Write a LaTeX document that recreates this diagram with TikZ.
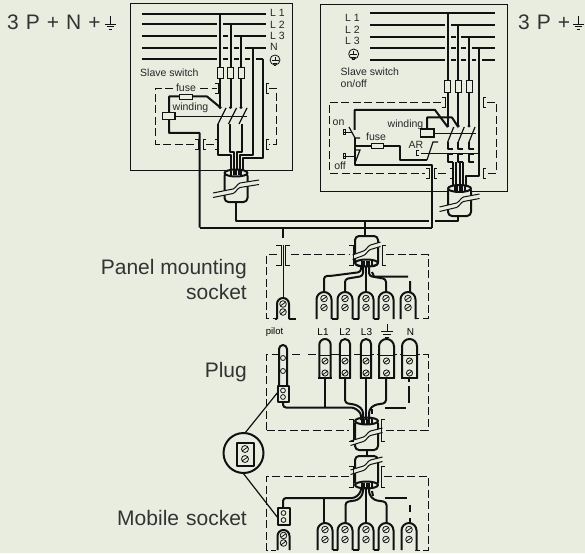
\documentclass[tikz,border=0pt]{standalone}
\usepackage{xcolor}
\usepackage{fontspec}
\setmainfont{Liberation Sans}
\definecolor{panel-bg}{HTML}{E9EDE0}
\definecolor{wire-black}{HTML}{111111}
\tikzset{
    wire/.style={line width=2pt, wire-black, line join=round},
    thinwire/.style={line width=0.8pt, wire-black},
    dashbox/.style={line width=0.9pt, wire-black, dash pattern=on 8pt off 3.5pt},
    bigtext/.style={font=\fontsize{21}{25}\selectfont, text=black!80},
    smalltext/.style={font=\fontsize{10.5}{12}\selectfont, text=black!85, inner sep=0pt}
}
% terminal with an arched top and two screws: x, top, bottom, half width, screw 1, screw 2
\newcommand{\clampterm}[6]{
    \draw[wire, fill=panel-bg, rounded corners=#4 pt] (#1-#4,#3) -- (#1-#4,#2) -- (#1+#4,#2) -- (#1+#4,#3);
    \foreach \s in {#5,#6} {
        \draw[thinwire] (#1,\s) circle[radius=3.3];
        \draw[thinwire] (#1-2.3,\s+1.7) -- (#1+2.3,\s-1.7);
    }
}
% plug pin: x, half width, top
\newcommand{\plugpin}[3]{
    \draw[wire, fill=panel-bg, rounded corners=#2 pt] (#1-#2,378) -- (#1-#2,#3) -- (#1+#2,#3) -- (#1+#2,378);
    \draw[wire] (#1-#2-1,378) -- (#1+#2+1,378);
    \draw[thinwire] (#1-#2,355) -- (#1+#2,355);
    \foreach \s in {361,373} {
        \draw[thinwire] (#1,\s) circle[radius=3.1];
        \draw[thinwire] (#1-2.2,\s+1.6) -- (#1+2.2,\s-1.6);
    }
}
% cable sleeve: x, top, bottom, break y, reach of the break, y of the mouth
\newcommand{\sleeve}[6]{
    \draw[wire, rounded corners=4pt, fill=panel-bg] (#1-11.5,#2) -- (#1-11.5,#3) -- (#1+11.5,#3) -- (#1+11.5,#2) -- cycle;
    \fill[panel-bg] (#1-#5,#4+6) -- (#1-3,#4+2) .. controls (#1,#4+1) and (#1+1,#4-3) .. (#1+4,#4-4) -- (#1+#5,#4-7) -- (#1+#5,#4-2.5) -- (#1+4,#4+0.5) .. controls (#1+1,#4+1.5) and (#1,#4+5.5) .. (#1-3,#4+6.5) -- (#1-#5,#4+10.5) -- cycle;
    \draw[line width=1pt, wire-black] (#1-#5,#4+6) -- (#1-3,#4+2) .. controls (#1,#4+1) and (#1+1,#4-3) .. (#1+4,#4-4) -- (#1+#5,#4-7);
    \draw[line width=1pt, wire-black] (#1-#5,#4+10.5) -- (#1-3,#4+6.5) .. controls (#1,#4+5.5) and (#1+1,#4+1.5) .. (#1+4,#4+0.5) -- (#1+#5,#4-2.5);
    \draw[wire, fill=panel-bg] (#1,#6) ellipse[x radius=11.5, y radius=3.5];
    \foreach \d in {-5,-2.5,0,2.5,5} {
        \draw[wire] (#1+\d,#6-2.5) -- (#1+\d,#6+2.5);
    }
}
% bracket of a connector: x, y1, y2, direction
\newcommand{\ctag}[4]{
    \draw[thinwire] (#1+#4,#2) -- (#1,#2) -- (#1,#3) -- (#1+#4,#3);
}
% earth sign: x, y of the first bar, half width, stem
\newcommand{\earthmark}[4]{
    \draw[thinwire] (#1,#2-#4) -- (#1,#2);
    \draw[thinwire] (#1-#3,#2) -- (#1+#3,#2);
    \draw[thinwire] (#1-#3*0.68,#2+2.6) -- (#1+#3*0.68,#2+2.6);
    \draw[thinwire] (#1-#3*0.36,#2+5.2) -- (#1+#3*0.36,#2+5.2);
}
\begin{document}
\begin{tikzpicture}[x=1pt,y=-1pt]
    \fill[panel-bg] (0,0) rectangle (585,553);
    \useasboundingbox (0,0) rectangle (585,553);

    % Titles
    \node[bigtext, anchor=west, inner sep=0pt] (titleleft) at (7,22) {\spaceskip=7pt 3 P + N +};
    \earthmark{110.5}{24}{5.5}{8}
    \node[bigtext, anchor=west, inner sep=0pt] (titleright) at (518,22) {\spaceskip=7pt 3 P +};
    \earthmark{578.5}{24}{5.5}{8}
    \node[bigtext, anchor=east, inner sep=0pt, align=right] (panellabel) at (247,279) {Panel mounting\\socket};
    \node[bigtext, anchor=east, inner sep=0pt] (pluglabel) at (247,372) {Plug};
    \node[bigtext, anchor=east, inner sep=0pt] (mobilelabel) at (247,518) {\spaceskip=7pt Mobile socket};

    % Left switch box
    \draw[line width=0.8pt, wire-black] (130.5,3) rectangle (292,170.5);
    \draw[wire] (142,14) -- (266,14);
    \foreach \y/\xa/\label in {24.5/270/L 2, 36/270/L 3} {
        \node[smalltext, anchor=west] (left\y) at (\xa,\y) {\label};
    }
    \node[smalltext, anchor=west] (leftlone) at (270,13) {L 1};
    \node[smalltext, anchor=west] (leftn) at (270,47) {N};
    \draw[thinwire] (275,60) circle[radius=5];
    \earthmark{275}{60.5}{3.5}{3.5}
    \draw[wire] (142,24.5) -- (217,24.5) (223,24.5) -- (266,24.5);
    \draw[wire] (142,36.5) -- (217,36.5) (223,36.5) -- (228,36.5) (234,36.5) -- (266,36.5);
    \draw[wire] (142,48) -- (217,48) (223,48) -- (228,48) (234,48) -- (239,48) (245,48) -- (266,48);
    \draw[wire] (142,59.5) -- (217,59.5) (223,59.5) -- (228,59.5) (234,59.5) -- (239,59.5) (245,59.5) -- (250,59.5) (256,59.5) -- (262.5,59.5);
    \foreach \x/\ytop in {220/14, 230.5/24.5, 241/36.5} {
        \draw[wire] (\x,\ytop) -- (\x,107);
        \draw[thinwire, fill=panel-bg] (\x-3,67) rectangle (\x+3,78);
        \draw[line width=1.2pt, wire-black] (\x+6,108) -- (\x-2,124);
        \fill[wire-black] (\x,107.5) circle[radius=1.6];
    }
    \draw[wire] (218,124) -- (218,155) -- (231,155) -- (231,172);
    \draw[wire] (230,124) -- (230,152) -- (234,152) -- (234,172);
    \draw[wire] (242,124) -- (242,152) -- (237,152) -- (237,172);
    \draw[wire] (253,48) -- (253,155) -- (240,155) -- (240,172);
    \draw[wire] (262.5,59.5) -- (262.5,158.5) -- (243,158.5) -- (243,172);
    \node[smalltext, anchor=west] (leftslave) at (140,73) {Slave switch};
    % Left dashed cover
    \draw[dashbox] (173,88.5) -- (155.5,88.5) -- (155.5,144) -- (196,144);
    \draw[dashbox] (200,88.5) -- (217,88.5);
    \draw[dashbox] (206,144) -- (216,144);
    \draw[dashbox] (269,88.5) -- (276,88.5) -- (276,144) -- (269,144);
    \foreach \x/\ya/\yb/\d in {218/83.5/93.5/-3, 266/83.5/93.5/3, 198/139/149/-3, 203/139/149/3, 218/139/149/-3, 266/139/149/3} {
        \ctag{\x}{\ya}{\yb}{\d}
    }
    \node[smalltext] (leftfuse) at (186,87.5) {fuse};
    \node[smalltext] (leftwinding) at (190.5,107.5) {winding};
    \draw[wire] (221,108) -- (207,96.5) -- (169,96.5) -- (169,133) -- (199.5,133) -- (199.5,227.5);
    \draw[thinwire, fill=panel-bg] (179,94) rectangle (192,99.5);
    \draw[thinwire] (175,116) -- (247,116);
    \draw[line width=1.1pt, wire-black, fill=panel-bg] (162.5,112.5) rectangle (175,119.5);
    \sleeve{236}{172}{202}{187}{23}{173}

    % Right switch box
    \draw[line width=0.8pt, wire-black] (320.5,4) rectangle (507,191);
    \foreach \y/\label in {18/L 1, 30/L 2, 41/L 3} {
        \node[smalltext, anchor=west] (right\y) at (345,\y) {\label};
    }
    \draw[thinwire] (353.7,54) circle[radius=5];
    \earthmark{353.7}{54.5}{3.5}{3.5}
    \node[smalltext, anchor=west, align=left] (rightslave) at (340.5,77.5) {Slave switch\\on/off};
    \draw[wire] (370,13.5) -- (495,13.5);
    \draw[wire] (370,24.7) -- (445,24.7) (451,24.7) -- (495,24.7);
    \draw[wire] (370,36.7) -- (445,36.7) (451,36.7) -- (456,36.7) (461,36.7) -- (495,36.7);
    \draw[wire] (370,48.3) -- (445,48.3) (451,48.3) -- (456,48.3) (461,48.3) -- (466,48.3) (472,48.3) -- (495,48.3);
    \draw[wire] (370,60) -- (445,60) (451,60) -- (456,60) (461,60) -- (466,60) (472,60) -- (476,60) (482,60) -- (495,60);
    \foreach \x/\ytop in {447.7/13.5, 458.2/24.7, 469/36.7} {
        \draw[wire] (\x,\ytop) -- (\x,125);
        \draw[thinwire, fill=panel-bg] (\x-3,80) rectangle (\x+3,92);
        \draw[line width=1.2pt, wire-black] (\x+6,127) -- (\x,142);
        \fill[wire-black] (\x,126) circle[radius=1.6];
        \draw[wire] (\x,142) -- (\x,149.5) -- (\x+5,149.5);
        \draw[wire] (\x+5,154.5) -- (\x,154.5) -- (\x,162) -- (\x+5,162);
    }
    \draw[thinwire] (434,133) -- (476,133);
    \draw[thinwire] (421,153) -- (479,153);
    \draw[thinwire] (419,150.5) -- (416,150.5) -- (416,155.5) -- (419,155.5);
    \draw[wire] (452.7,162) -- (452.7,186) (456,162) -- (456,186) (460,162) -- (460,186) (463,162) -- (463,186);
    \draw[wire] (479,48.3) -- (479,176.5) -- (466,176.5) -- (466,186);
    % Right dashed cover
    \draw[dashbox] (441,102) -- (329,102) -- (329,173) -- (425,173);
    \draw[dashbox] (438,173) -- (449,173);
    \draw[dashbox] (487,102) -- (496,102) -- (496,173) -- (487,173);
    \foreach \x/\ya/\yb/\d in {445/97/107/-3, 483/97/107/3, 429/168/178/-3, 434/168/178/3, 453/168/178/-3, 483/168/178/3} {
        \ctag{\x}{\ya}{\yb}{\d}
    }
    \node[smalltext] (righton) at (338.5,122.5) {on};
    \node[smalltext] (rightfuse) at (376,136.5) {fuse};
    \node[smalltext] (rightwinding) at (405.5,125) {winding};
    \node[smalltext] (rightar) at (416,145) {AR};
    \node[smalltext] (rightoff) at (340,166) {off};
    % Right control circuit
    \draw[wire] (447.7,127) -- (435,110) -- (354.5,110) -- (354.5,130);
    \draw[wire] (427,129) -- (427,117.5) -- (452,117.5) -- (458.2,127);
    \draw[line width=1.2pt, wire-black] (349,127) -- (355,138) -- (360,138);
    \draw[thinwire] (343,132) -- (352,132);
    \draw[thinwire] (343,129.5) rectangle (345,134.5);
    \draw[wire] (355,138) -- (355,165) -- (432,165) -- (432,227.5);
    \draw[wire] (355,146) -- (400,146) -- (400,160) -- (427,160);
    \draw[line width=1.2pt, wire-black] (427,160) -- (433,142) -- (438,142);
    \draw[line width=1.2pt, wire-black] (355,150) -- (360,150) -- (355,163);
    \draw[thinwire] (343,156) -- (356,156);
    \draw[thinwire] (343,153.5) rectangle (345,158.5);
    \draw[thinwire, fill=panel-bg] (371,143) rectangle (383,148.5);
    \draw[line width=1.1pt, wire-black, fill=panel-bg] (420.7,129) rectangle (434,137);
    \sleeve{459.5}{187}{216}{201}{20}{188.5}

    % Links between the boxes
    \draw[wire] (199.5,227.5) -- (432,227.5);
    \draw[wire] (236,202) -- (236,221) -- (429,221) (435,221) -- (458,221) -- (458,216);
    \draw[wire] (364.5,221) -- (364.5,236);
    \draw[wire] (283,227.5) -- (283,238);

    % Panel mounting socket
    \draw[dashbox] (277,254.5) -- (266.5,254.5) -- (266.5,318.5) -- (276,318.5);
    \draw[dashbox] (291,254.5) -- (350,254.5);
    \draw[dashbox] (386,254.5) -- (428,254.5) -- (428,318.5) -- (415,318.5);
    \sleeve{366.5}{236}{266}{249}{14}{263}
    \foreach \x/\d in {281/-5, 285/5, 353/-4, 382/4} {
        \ctag{\x}{245}{265}{\d}
    }
    \draw[thinwire] (283,245) -- (283,298);
    \draw[wire, rounded corners=3pt] (361,266) -- (361,272) -- (330,276) -- (324,276) -- (324,292);
    \draw[wire, rounded corners=3pt] (363,266) -- (363,276) -- (345,279) -- (345,292);
    \draw[wire] (366,266) -- (366,292);
    \draw[wire, rounded corners=3pt] (369,266) -- (369,276) -- (386,279) -- (386,292);
    \draw[wire] (372,272) -- (374,276.5) -- (408,276.5) (410,281) -- (410,292);
    \foreach \x in {324,345,366,386,408} {
        \clampterm{\x}{292}{319}{7.5}{298.5}{307.5}
    }
    \clampterm{283}{298}{319}{6}{304}{312}
    \draw[wire] (331.5,319) -- (337.5,319) (352.5,319) -- (358.5,319) (373.5,319) -- (378.5,319);
    \draw[wire] (275,319) -- (277,319) (289,319) -- (296,319);

    % Plug
    \node[font=\fontsize{9.5}{11}\selectfont, inner sep=0pt] (pilotlabel) at (274.5,332) {pilot};
    \foreach \x/\label in {323/L1, 345/L2, 366.5/L3, 410.5/N} {
        \node[font=\fontsize{10}{11}\selectfont, inner sep=0pt] (plug\label) at (\x,332) {\label};
    }
    \earthmark{387}{331.7}{6}{8}
    \draw[dashbox] (266.5,430) -- (266.5,354.5) -- (278,354.5);
    \draw[dashbox] (292,354.5) -- (302,354.5);
    \draw[dashbox] (308,354.5) -- (428,354.5) -- (428,430) -- (382,430);
    \draw[dashbox] (266.5,430) -- (349,430);
    \plugpin{325}{5.7}{339}
    \plugpin{345}{5.2}{339}
    \plugpin{366}{5.2}{339}
    \plugpin{386.5}{7.5}{339}
    \plugpin{409.5}{7.5}{339}
    \draw[wire, fill=panel-bg, rounded corners=4pt] (279,385) -- (279,345) -- (287,345) -- (287,385);
    \draw[thinwire] (283,358) circle[radius=2.5] (283,371) circle[radius=2.5];
    \draw[wire, fill=panel-bg] (277.5,385.5) rectangle (289,402);
    \foreach \s in {390.5,397} {
        \draw[thinwire] (283,\s) circle[radius=2.4];
    }
    \sleeve{366.5}{420}{450}{435}{16}{421}
    \foreach \x/\d in {353/-4, 381/4} {
        \ctag{\x}{419}{441}{\d}
    }
    \draw[wire, rounded corners=3pt] (283,402) -- (283,407.5) -- (354,407.5) -- (361,413) -- (361,420);
    \draw[wire] (325,378) -- (325,407.5);
    \draw[wire, rounded corners=3pt] (345,378) -- (345,403) -- (357,405) -- (363,410) -- (363,420);
    \draw[wire] (366,378) -- (366,420);
    \draw[wire, rounded corners=3pt] (386,378) -- (386,403) -- (374,405) -- (369,410) -- (369,420);
    \draw[wire] (372,409) -- (372,414);
    \draw[wire] (385,407.5) -- (406,407.5);
    \draw[wire] (409,378) -- (409,382) (409,386) -- (409,403);

    % Pilot detail
    \draw[wire] (243.5,453) circle[radius=20];
    \draw[wire, fill=panel-bg] (236.5,442.5) rectangle (254,466);
    \draw[thinwire] (245,449) circle[radius=3.5] (245,459) circle[radius=3.5];
    \draw[thinwire] (242,451) -- (248,447) (242,461) -- (248,457);
    \draw[line width=1.2pt, wire-black] (245,433) -- (278,392);
    \draw[line width=1.2pt, wire-black] (243,473) -- (278,518);

    % Mobile socket
    \draw[wire] (366.5,450) -- (366.5,456);
    \sleeve{366.5}{456}{486}{464}{16}{485}
    \foreach \x/\d in {353/-4, 381/4} {
        \ctag{\x}{466}{487}{\d}
    }
    \draw[dashbox] (349,476) -- (266.5,476) -- (266.5,550) -- (276,550);
    \draw[dashbox] (384,476) -- (428,476) -- (428,550) -- (415,550);
    \draw[wire, rounded corners=3pt] (283,508) -- (283,498) -- (355,498) -- (361,492) -- (361,487);
    \draw[wire] (323.5,498) -- (323.5,523);
    \draw[wire, rounded corners=3pt] (345.5,523) -- (345.5,502) -- (358,500) -- (363,494) -- (363,487);
    \draw[wire] (366,487) -- (366,523);
    \draw[wire, rounded corners=3pt] (386.5,523) -- (386.5,502) -- (374,500) -- (369,494) -- (369,487);
    \draw[wire] (372,491) -- (373,496);
    \draw[wire] (385,498) -- (407,498);
    \draw[wire] (410,505) -- (410,512) (410,518) -- (410,523);
    \foreach \x in {325,345,366,386,409} {
        \clampterm{\x}{523}{550}{7.5}{529.5}{539.5}
    }
    \draw[wire, fill=panel-bg] (278,508) rectangle (289.5,525);
    \foreach \s in {513,520} {
        \draw[thinwire] (283.5,\s) circle[radius=2.4];
    }
    \clampterm{283.5}{530}{550}{6}{535.5}{543}
    \draw[wire] (332.5,550) -- (337.5,550) (352.5,550) -- (358.5,550) (373.5,550) -- (378.5,550);
\end{tikzpicture}
\end{document}
